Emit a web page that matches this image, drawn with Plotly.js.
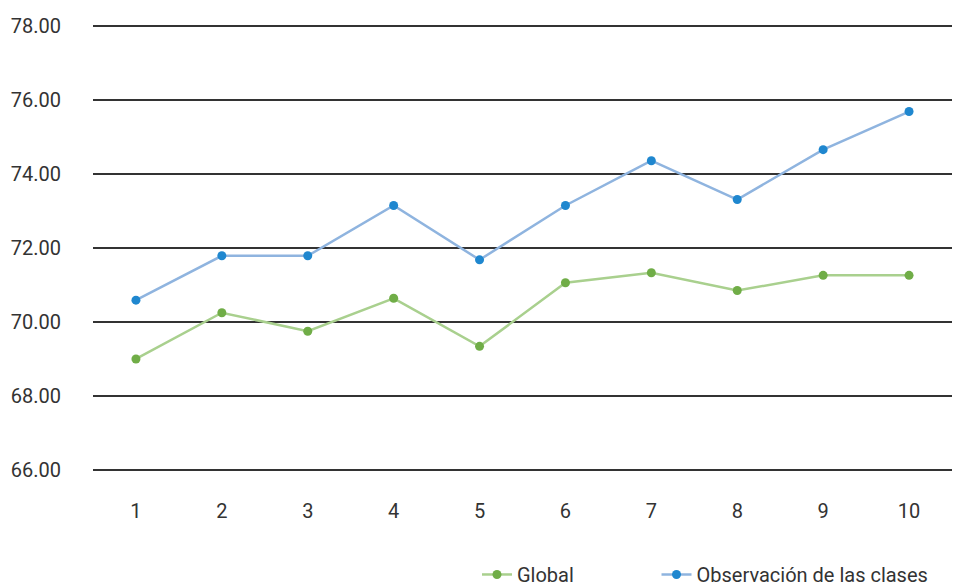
<!DOCTYPE html>
<html>
<head>
<meta charset="utf-8">
<script src="https://cdn.plot.ly/plotly-3.0.1.min.js"></script>
<style>html,body{margin:0;padding:0;background:#fff;}#chart{width:961px;height:586px;}</style>
</head>
<body>
<div id="chart"></div>
<script>
const categories = ['1','2','3','4','5','6','7','8','9','10'];
const globalValues = [69.00, 70.25, 69.75, 70.64, 69.34, 71.06, 71.33, 70.85, 71.26, 71.26];
const observacionValues = [70.59, 71.79, 71.79, 73.15, 71.68, 73.15, 74.36, 73.31, 74.66, 75.69];
const yTicks = [66, 68, 70, 72, 74, 76, 78];
const yTickLabels = ['66.00', '68.00', '70.00', '72.00', '74.00', '76.00', '78.00'];

const traces = [
  {
    x: categories, y: globalValues, name: 'Global', type: 'scatter', mode: 'lines+markers',
    line: {color: '#a9d08e', width: 2.5}, marker: {color: '#70ad47', size: 9}, legend: 'legend'
  },
  {
    x: categories, y: observacionValues, name: 'Observación de las clases', type: 'scatter', mode: 'lines+markers',
    line: {color: '#8fb4df', width: 2.5}, marker: {color: '#1f87cf', size: 9}, legend: 'legend2'
  }
];

const layout = {
  width: 961, height: 586,
  margin: {l: 93, r: 9, t: 25, b: 115, autoexpand: false},
  paper_bgcolor: '#fff', plot_bgcolor: '#fff',
  font: {family: 'Roboto, sans-serif', size: 20, color: '#333'},
  showlegend: true,
  legend: {orientation: 'h', x: 0.447, xanchor: 'left', y: -0.232, yanchor: 'middle',
           font: {size: 20, color: '#333'}},
  legend2: {orientation: 'h', x: 0.656, xanchor: 'left', y: -0.232, yanchor: 'middle',
           font: {size: 20, color: '#333'}},
  xaxis: {type: 'category', range: [-0.5, 9.5], showgrid: false, zeroline: false,
          showline: false, ticks: '', ticklabelstandoff: 26, tickfont: {size: 20, color: '#333'}, fixedrange: true},
  yaxis: {range: [65.97, 78.03], tickvals: yTicks, ticktext: yTickLabels, showgrid: true,
          gridcolor: '#333', gridwidth: 1.5, zeroline: false, showline: false, ticks: '',
          ticklabelstandoff: 31, tickfont: {size: 20, color: '#333'}, fixedrange: true}
};

Plotly.newPlot('chart', traces, layout, {displayModeBar: false, staticPlot: true});
</script>
</body>
</html>
